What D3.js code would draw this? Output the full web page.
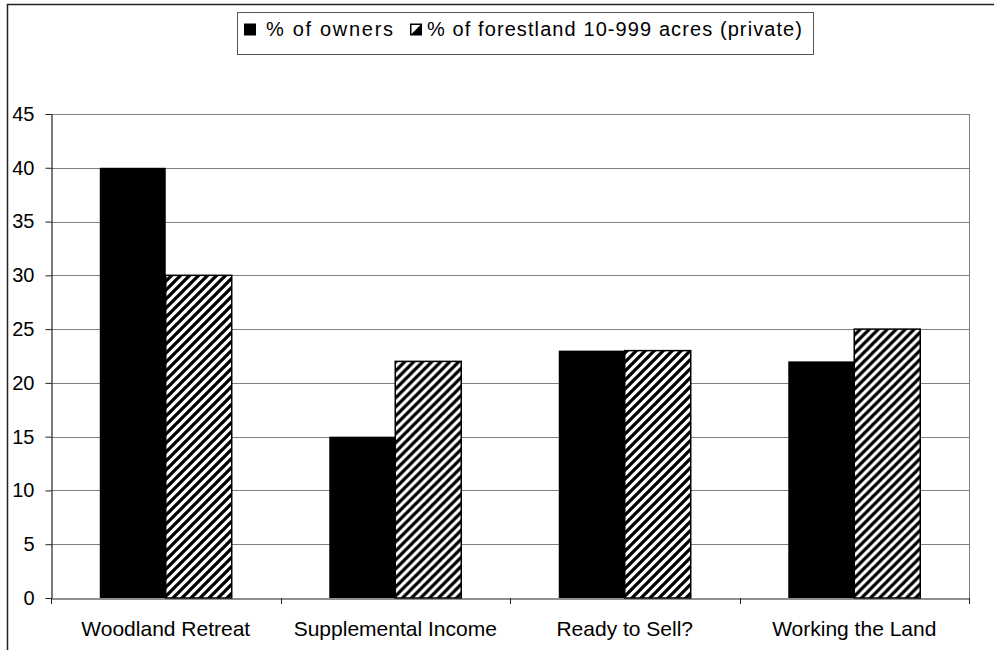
<!DOCTYPE html>
<html>
<head>
<meta charset="utf-8">
<script src="https://cdn.jsdelivr.net/npm/d3@7"></script>
<style>
  html, body { margin: 0; padding: 0; background: #fff; }
  svg { display: block; font-family: Arial, "Liberation Sans", sans-serif; }
</style>
</head>
<body>
<svg id="chart" width="994" height="650"></svg>
<script>
// Owner groups and the two measured shares (percent)
const categories = ["Woodland Retreat", "Supplemental Income", "Ready to Sell?", "Working the Land"];
const seriesNames = ["% of owners", "% of forestland 10-999 acres (private)"];
const ownersPct = [40, 15, 23, 22];
const forestlandPct = [30, 22, 23, 25];
const yTicks = [0, 5, 10, 15, 20, 25, 30, 35, 40, 45];

const rows = categories.map((c, i) => ({ category: c, values: [ownersPct[i], forestlandPct[i]] }));

const svg = d3.select("#chart");
const plot = { left: 51, right: 969, top: 114, bottom: 598 };

// Diagonal hatch used by the forestland series
const defs = svg.append("defs");
const hatch = defs.append("pattern")
  .attr("id", "hatch")
  .attr("patternUnits", "userSpaceOnUse")
  .attr("width", 9).attr("height", 9);
hatch.append("rect").attr("width", 9).attr("height", 9).attr("fill", "#fff");
hatch.append("path")
  .attr("d", "M-2.25,2.25 L2.25,-2.25 M0,9 L9,0 M6.75,11.25 L11.25,6.75")
  .attr("stroke", "#000").attr("stroke-width", 3.3);

// Outer frame
svg.append("rect")
  .attr("x", 7.5).attr("y", 4.5).attr("width", 1100).attr("height", 1100)
  .attr("fill", "none").attr("stroke", "#222").attr("stroke-width", 1.5);

const y = d3.scaleLinear().domain([0, 45]).range([plot.bottom, plot.top]);
const x0 = d3.scaleBand().domain(categories).range([plot.left, plot.right]).padding(0);
const x1 = d3.scaleBand().domain([0, 1]).range([0, x0.bandwidth()])
  .paddingInner(0).paddingOuter(0.739);

// Horizontal gridlines
svg.append("g").selectAll("line")
  .data(yTicks.filter(t => t > 0))
  .join("line")
  .attr("x1", plot.left).attr("x2", plot.right)
  .attr("y1", d => Math.round(y(d)) + 0.5).attr("y2", d => Math.round(y(d)) + 0.5)
  .attr("stroke", "#808080").attr("stroke-width", 1);

// Right edge of the plot area
svg.append("line")
  .attr("x1", plot.right + 0.5).attr("x2", plot.right + 0.5)
  .attr("y1", plot.top).attr("y2", plot.bottom)
  .attr("stroke", "#808080");

// Bars
const groups = svg.append("g").selectAll("g")
  .data(rows)
  .join("g")
  .attr("transform", d => `translate(${x0(d.category)},0)`);

groups.selectAll("rect")
  .data(d => d.values.map((v, i) => ({ v, i })))
  .join("rect")
  .attr("x", d => x1(d.i))
  .attr("width", x1.bandwidth())
  .attr("y", d => y(d.v))
  .attr("height", d => y(0) - y(d.v))
  .attr("fill", d => d.i === 0 ? "#000" : "url(#hatch)")
  .attr("stroke", "#000")
  .attr("stroke-width", d => d.i === 0 ? 0 : 1.5);

// Y axis
const yAxis = svg.append("g")
  .attr("transform", `translate(${plot.left + 0.5},0)`)
  .call(d3.axisLeft(y).tickValues(yTicks).tickSize(6).tickSizeOuter(0).tickPadding(11).tickFormat(d3.format("d")));
yAxis.select(".domain").attr("stroke", "#222").attr("stroke-width", 1.2);
yAxis.selectAll(".tick line").attr("stroke", "#222");
yAxis.selectAll("text").attr("font-size", 20).attr("fill", "#000")
  .attr("font-family", "Arial, 'Liberation Sans', sans-serif");

// X axis: baseline, boundary ticks and category labels
const xAxis = svg.append("g")
  .attr("transform", `translate(0,${plot.bottom + 0.5})`)
  .call(d3.axisBottom(x0).tickSize(0).tickPadding(23));
xAxis.select(".domain").attr("stroke", "#222").attr("stroke-width", 1.2);
xAxis.selectAll("text").attr("font-size", 21).attr("fill", "#000")
  .attr("font-family", "Arial, 'Liberation Sans', sans-serif");

const boundaries = categories.map(c => x0(c)).concat([x0(categories[categories.length - 1]) + x0.bandwidth()]);
svg.append("g").selectAll("line")
  .data(boundaries)
  .join("line")
  .attr("x1", d => Math.round(d) + 0.5).attr("x2", d => Math.round(d) + 0.5)
  .attr("y1", plot.bottom).attr("y2", plot.bottom + 6)
  .attr("stroke", "#222");

// Legend
const legend = svg.append("g");
legend.append("rect")
  .attr("x", 237.5).attr("y", 12.5).attr("width", 576).attr("height", 42)
  .attr("fill", "#fff").attr("stroke", "#555").attr("stroke-width", 1);

legend.append("rect")
  .attr("x", 244).attr("y", 23.5).attr("width", 12).attr("height", 12)
  .attr("fill", "#000");
legend.append("text")
  .attr("x", 266).attr("y", 36)
  .attr("font-size", 20)
  .attr("textLength", 127).attr("lengthAdjust", "spacing")
  .text(seriesNames[0]);

legend.append("rect")
  .attr("x", 410.75).attr("y", 24.25).attr("width", 10.5).attr("height", 10.5)
  .attr("fill", "#fff").attr("stroke", "#000").attr("stroke-width", 1.5);
legend.append("path")
  .attr("d", "M421.25,24.25 L421.25,34.75 L410.75,34.75 Z")
  .attr("fill", "#000");
legend.append("text")
  .attr("x", 427).attr("y", 36)
  .attr("font-size", 20)
  .attr("textLength", 375).attr("lengthAdjust", "spacing")
  .text(seriesNames[1]);
</script>
</body>
</html>
